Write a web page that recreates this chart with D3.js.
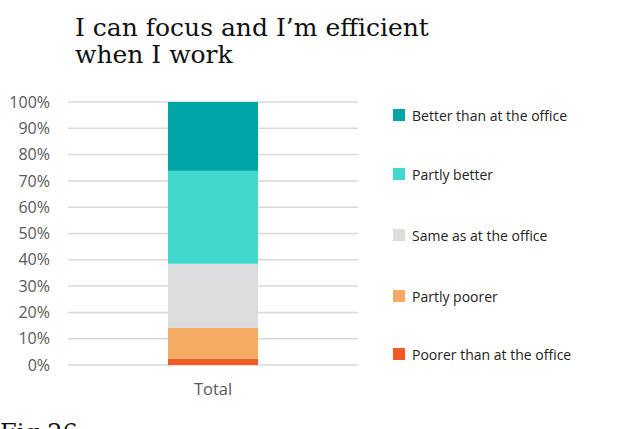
<!DOCTYPE html>
<html>
<head>
<meta charset="utf-8">
<script src="https://cdn.jsdelivr.net/npm/d3@7"></script>
<style>
  body { margin: 0; background: #fff; }
  svg { display: block; }
</style>
</head>
<body>
<div id="chart"></div>
<script>
// data (percent of respondents)
var categories = ["Total"];
var seriesNames = ["Poorer than at the office", "Partly poorer", "Same as at the office", "Partly better", "Better than at the office"];
var seriesValues = [2.4, 11.8, 24.3, 35.3, 26.2];
var seriesColors = ["#f15a22", "#f4ac64", "#dcdddf", "#40d9cc", "#00a5a8"];
var tickValues = [0, 10, 20, 30, 40, 50, 60, 70, 80, 90, 100];

var W = 624, H = 429;
var margin = {top: 102, left: 68, plotRight: 358, bottom: 365};

var svg = d3.select("#chart").append("svg")
    .attr("width", W)
    .attr("height", H);

// title
var title = svg.append("text")
    .style("font-family", "'DejaVu Serif', 'Liberation Serif', serif")
    .style("font-size", "25px")
    .style("fill", "#111");
title.append("tspan").attr("x", 75).attr("y", 36).text("I can focus and I\u2019m efficient");
title.append("tspan").attr("x", 75).attr("y", 63).text("when I work");

var y = d3.scaleLinear()
    .domain([0, 100])
    .range([margin.bottom, margin.top]);

var x = d3.scaleBand()
    .domain(categories)
    .range([margin.left, margin.plotRight])
    .paddingInner(0.0)
    .paddingOuter(1.11);

// gridlines
svg.append("g")
  .selectAll("line")
  .data(tickValues)
  .enter()
  .append("line")
    .attr("x1", margin.left)
    .attr("x2", margin.plotRight)
    .attr("y1", function(d) { return y(d); })
    .attr("y2", function(d) { return y(d); })
    .attr("stroke", "#d9d9d9")
    .attr("stroke-width", 1.5);

// y axis labels
var yAxis = svg.append("g")
    .attr("transform", "translate(" + (margin.left - 18) + ",0)")
    .call(d3.axisLeft(y).tickValues(tickValues).tickSize(0).tickPadding(0)
      .tickFormat(function(d) { return d + "%"; }));
yAxis.select(".domain").remove();
yAxis.selectAll("text")
    .style("font-family", "'Open Sans', 'Liberation Sans', sans-serif")
    .style("font-size", "16px")
    .style("fill", "#595959");

// stacked segments
var stackData = [{}];
seriesNames.forEach(function(n, i) { stackData[0][n] = seriesValues[i]; });
stackData[0].cat = categories[0];
var stacked = d3.stack().keys(seriesNames)(stackData);

svg.append("g")
  .selectAll("g")
  .data(stacked)
  .enter()
  .append("g")
    .attr("fill", function(d, i) { return seriesColors[i]; })
  .selectAll("rect")
  .data(function(d) { return d; })
  .enter()
  .append("rect")
    .attr("x", function(d) { return x(d.data.cat); })
    .attr("width", x.bandwidth())
    .attr("y", function(d) { return y(d[1]); })
    .attr("height", function(d) { return y(d[0]) - y(d[1]); });

// x axis label
var xAxis = svg.append("g")
    .attr("transform", "translate(0," + (margin.bottom + 18) + ")")
    .call(d3.axisBottom(x).tickSize(0).tickPadding(0));
xAxis.select(".domain").remove();
xAxis.selectAll("text")
    .style("font-family", "'Open Sans', 'Liberation Sans', sans-serif")
    .style("font-size", "16.5px")
    .style("fill", "#595959");

// legend, top item first
var legendY = [115, 174, 235, 296, 354];
var legendOrder = [4, 3, 2, 1, 0];
var legend = svg.append("g");
legendOrder.forEach(function(si, i) {
  legend.append("rect")
    .attr("x", 393)
    .attr("y", legendY[i] - 6)
    .attr("width", 12)
    .attr("height", 12)
    .attr("fill", seriesColors[si]);
  legend.append("text")
    .attr("x", 412)
    .attr("y", legendY[i] + 6)
    .style("font-family", "'Open Sans', 'Liberation Sans', sans-serif")
    .style("font-size", "14px")
    .style("fill", "#222")
    .text(seriesNames[si]);
});

// figure caption, cut by the bottom edge as in the source
svg.append("text")
    .attr("x", 0)
    .attr("y", 441)
    .style("font-family", "'DejaVu Serif', 'Liberation Serif', serif")
    .style("font-size", "24px")
    .style("fill", "#111")
    .text("Fig 26");
</script>
</body>
</html>
